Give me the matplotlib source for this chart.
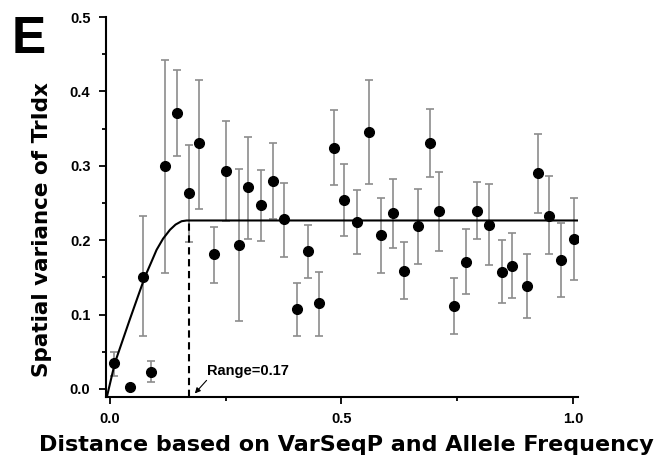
import matplotlib
matplotlib.use('Agg')
import matplotlib.pyplot as plt
import numpy
from matplotlib.ticker import MultipleLocator, FormatStrFormatter

# semivariance estimates with error bar limits
dist = [0.009, 0.043, 0.071, 0.090, 0.120, 0.145, 0.171, 0.193, 0.225,
        0.251, 0.278, 0.299, 0.326, 0.353, 0.377, 0.405, 0.428, 0.452,
        0.484, 0.505, 0.533, 0.559, 0.585, 0.612, 0.636, 0.665, 0.690,
        0.711, 0.742, 0.769, 0.792, 0.819, 0.846, 0.869, 0.900, 0.924,
        0.947, 0.973, 1.001]
gamma = [0.035, 0.003, 0.151, 0.023, 0.300, 0.371, 0.263, 0.330, 0.181,
         0.293, 0.194, 0.271, 0.247, 0.279, 0.228, 0.107, 0.185, 0.115,
         0.324, 0.254, 0.224, 0.345, 0.207, 0.236, 0.159, 0.219, 0.330,
         0.239, 0.111, 0.171, 0.239, 0.220, 0.157, 0.165, 0.138, 0.290,
         0.233, 0.174, 0.202]
upper = [0.050, None, 0.232, 0.037, 0.442, 0.429, 0.328, 0.416, 0.218,
         0.360, 0.296, 0.339, 0.294, 0.331, 0.277, 0.142, 0.220, 0.157,
         0.375, 0.303, 0.267, 0.415, 0.257, 0.282, 0.198, 0.269, 0.376,
         0.292, 0.149, 0.215, 0.278, 0.275, 0.200, 0.210, 0.181, 0.343,
         0.286, 0.223, 0.257]
lower = [0.018, None, 0.071, 0.010, 0.156, 0.313, 0.197, 0.242, 0.142,
         0.226, 0.092, 0.202, 0.199, 0.228, 0.178, 0.071, 0.149, 0.071,
         0.274, 0.205, 0.181, 0.276, 0.156, 0.189, 0.121, 0.168, 0.285,
         0.186, 0.074, 0.128, 0.201, 0.167, 0.116, 0.122, 0.095, 0.236,
         0.182, 0.124, 0.147]

# fitted model curve
model_x = [-0.006, 0.011, 0.027, 0.043, 0.060, 0.076, 0.090, 0.101, 0.115,
           0.130, 0.142, 0.155, 0.166, 0.170, 1.010]
model_y = [-0.010, 0.035, 0.064, 0.093, 0.123, 0.151, 0.171, 0.187, 0.202,
           0.214, 0.221, 0.2255, 0.2265, 0.2265, 0.2265]

range_value = 0.17
sill = 0.2265

plt.rcParams['font.family'] = ['Liberation Sans', 'DejaVu Sans']
plt.rcParams['font.weight'] = 'bold'

fig = plt.figure(figsize=(6.57, 4.61), dpi=100)
ax = fig.add_axes([0.161, 0.1388, 0.719, 0.8243])

# error bars (gray) first, dots on top
x = numpy.array(dist)
y = numpy.array(gamma)
has_err = numpy.array([u is not None for u in upper])
up = numpy.array([u if u is not None else 0 for u in upper])
lo = numpy.array([l if l is not None else 0 for l in lower])
ax.errorbar(x[has_err], y[has_err],
            yerr=[y[has_err] - lo[has_err], up[has_err] - y[has_err]],
            fmt='none', ecolor='#8c8c8c', elinewidth=1.2, capsize=3,
            capthick=1.2, zorder=2)
ax.plot(x, y, 'o', color='black', markersize=7, zorder=4)

ax.plot(model_x, model_y, '-k', linewidth=1.5, zorder=3)
ax.plot([range_value, range_value], [-0.011, sill], '--k', linewidth=1.5,
        dashes=(3.5, 2.2), zorder=3)

ax.annotate('Range=0.17', xy=(0.1836, -0.006), xytext=(0.209, 0.0247),
            fontsize=10.5, fontweight='bold', va='center', ha='left',
            arrowprops=dict(arrowstyle='-|>', color='black', lw=0.8,
                            shrinkA=0, shrinkB=0, mutation_scale=8,
                            relpos=(0.03, 0.0)))

ax.set_xlim(-0.0086, 1.0108)
ax.set_ylim(-0.0108, 0.5)

ax.xaxis.set_major_locator(MultipleLocator(0.5))
ax.xaxis.set_minor_locator(MultipleLocator(0.25))
ax.yaxis.set_major_locator(MultipleLocator(0.1))
ax.yaxis.set_minor_locator(MultipleLocator(0.05))
ax.xaxis.set_major_formatter(FormatStrFormatter('%.1f'))
ax.yaxis.set_major_formatter(FormatStrFormatter('%.1f'))

ax.spines['top'].set_visible(False)
ax.spines['right'].set_visible(False)
for side in ['left', 'bottom']:
    ax.spines[side].set_linewidth(1.5)
ax.tick_params(which='major', direction='out', length=5, width=1.3,
               labelsize=10.5, pad=6)
ax.tick_params(which='minor', direction='out', length=3, width=1.3)
for lbl in ax.get_xticklabels() + ax.get_yticklabels():
    lbl.set_fontweight('bold')

# axis titles in the original are wide and heavy
ax.set_xlabel('Distance based on VarSeqP and Allele Frequency',
              fontsize=16, fontweight='bold', family='DejaVu Sans',
              labelpad=6)
ax.xaxis.label.set_x(0.51)
ax.set_ylabel('Spatial variance of TrIdx', fontsize=15.5, fontweight='bold',
              family='DejaVu Sans', labelpad=13)
ax.yaxis.label.set_y(0.44)

fig.text(0.017, 0.968, 'E', fontsize=37, fontweight='bold', va='top',
         ha='left')

fig.savefig('out.png', dpi=100)
